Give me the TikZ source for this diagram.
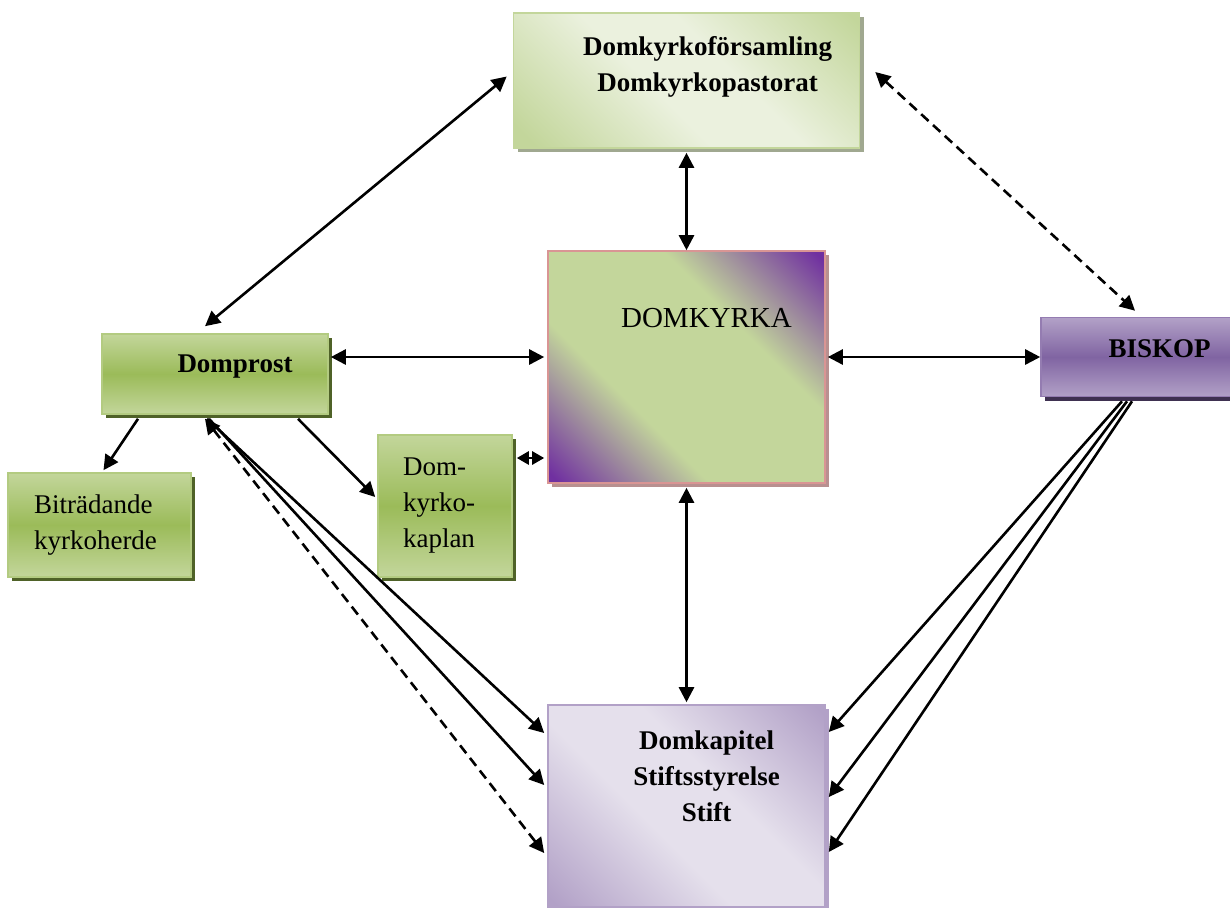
\documentclass[tikz,border=0pt]{standalone}
\usepackage{fontspec}
\setmainfont{Liberation Serif}
\usetikzlibrary{arrows.meta,shadows}

\definecolor{greenmid}{HTML}{9BBB59}
\definecolor{greenlight}{HTML}{C3D69B}
\definecolor{greenpale}{HTML}{EBF1DE}
\definecolor{greendark}{HTML}{4F6228}
\definecolor{purplemid}{HTML}{8064A2}
\definecolor{purplelight}{HTML}{B2A1C7}
\definecolor{purplepale}{HTML}{E5E0EC}
\definecolor{purpledark}{HTML}{3F3151}
\definecolor{purpledeep}{HTML}{7030A0}
\definecolor{pinkborder}{HTML}{D99594}
\definecolor{parishshadow}{HTML}{A0A890}
\definecolor{cathedralshadow}{HTML}{B89090}

\pgfdeclarehorizontalshading{parishshade}{100bp}{color(0bp)=(greenlight); color(18bp)=(greenlight); color(44bp)=(greenpale); color(58bp)=(greenpale); color(84bp)=(greenlight); color(100bp)=(greenlight)}
\pgfdeclarehorizontalshading{cathedralshade}{100bp}{color(0bp)=(purpledeep); color(16bp)=(purpledeep); color(37bp)=(greenlight); color(63bp)=(greenlight); color(84bp)=(purpledeep); color(100bp)=(purpledeep)}
\pgfdeclarehorizontalshading{chaptershade}{100bp}{color(0bp)=(purplelight); color(16bp)=(purplelight); color(42bp)=(purplepale); color(58bp)=(purplepale); color(84bp)=(purplelight); color(100bp)=(purplelight)}

\begin{document}
\begin{tikzpicture}[x=0.5pt,y=-0.5pt]
	\useasboundingbox (0,0) rectangle (1230,907);
	\begin{scope}[every node/.style={rectangle,inner sep=0pt,line width=0.8pt,
			font=\fontsize{13.5}{18}\selectfont},
		every label/.style={align=center},
		boldlabel/.style={font=\fontsize{13.5}{18}\selectfont\bfseries},
		greenbox/.style={draw=greenlight!60!greenmid,top color=greenlight,
			bottom color=greenlight,middle color=greenmid,
			drop shadow={shadow xshift=2pt,shadow yshift=-2pt,fill=greendark,opacity=1}},
		purplebox/.style={draw=purplemid!60!purplelight,top color=purplelight,
			bottom color=purplelight,middle color=purplemid,
			drop shadow={shadow xshift=2pt,shadow yshift=-2pt,fill=purpledark,opacity=1}}]
		\node[draw=greenlight,shade,shading=parishshade,shading angle=45,
			drop shadow={shadow xshift=2pt,shadow yshift=-2pt,fill=parishshadow,opacity=1},
			minimum width=173pt,minimum height=67.5pt,
			label={[boldlabel,xshift=10.5pt,yshift=7pt]center:Domkyrkoförsamling\\Domkyrkopastorat}]
			(parish) at (686.5,80.5) {};
		\node[draw=pinkborder,shade,shading=cathedralshade,shading angle=45,
			drop shadow={shadow xshift=2pt,shadow yshift=-2pt,fill=cathedralshadow,opacity=1},
			minimum width=138.5pt,minimum height=116pt,
			label={[xshift=10pt,yshift=24.5pt,font=\fontsize{14.5}{18}\selectfont]center:DOMKYRKA}]
			(cathedral) at (686.5,367) {};
		\node[draw=purplelight,shade,shading=chaptershade,shading angle=45,
			drop shadow={shadow xshift=2pt,shadow yshift=-2pt,fill=purplelight,opacity=1},
			minimum width=138.5pt,minimum height=101pt,
			label={[boldlabel,xshift=10pt,yshift=15pt]center:Domkapitel\\Stiftsstyrelse\\Stift}]
			(chapter) at (686.5,806) {};
		\node[greenbox,minimum width=113pt,minimum height=40pt,
			label={[boldlabel,xshift=10pt,yshift=3.5pt]center:Domprost}]
			(dean) at (215,374) {};
		\node[greenbox,minimum width=91.5pt,minimum height=52pt,
			label={[xshift=-2pt,align=left]center:Biträdande\\kyrkoherde}]
			(vicar) at (99.5,525) {};
		\node[greenbox,minimum width=67pt,minimum height=71pt,
			label={[xshift=-3pt,align=left]center:Dom-\\kyrko-\\kaplan}]
			(chaplain) at (445,506) {};
		\node[purplebox,minimum width=104.5pt,minimum height=39.5pt,
			label={[boldlabel,xshift=7pt,yshift=4pt]center:BISKOP}]
			(bishop) at (1145.5,357) {};
	\end{scope}
	\begin{scope}[>={Triangle[length=7.5pt,width=7.5pt]},line width=1.3pt,
		every edge/.style={draw=black}]
		\path [<->] ([xshift=-3pt,yshift=2pt]parish.west) edge ([xshift=-5pt,yshift=3.5pt]dean.north);
		\path [<->,dash pattern=on 5pt off 3pt] ([xshift=7.5pt,yshift=4.25pt]parish.east) edge ([xshift=-5.25pt,yshift=3pt]bishop.north);
		\path [<->] ([yshift=-2pt]parish.south) edge (cathedral.north);
		\path [<->] ([xshift=1pt,yshift=8.5pt]dean.east) edge ([xshift=-1.5pt,yshift=5pt]cathedral.west);
		\path [<->] ([xshift=1pt,yshift=5pt]cathedral.east) edge (bishop.west);
		\path [->] ([xshift=-38.5pt,yshift=-2pt]dean.south) edge ([xshift=2pt,yshift=1pt]vicar.north);
		\path [->] ([xshift=41.5pt,yshift=-2pt]dean.south) edge ([xshift=-1pt,yshift=4.5pt]chaplain.west);
		\path [<->,>={Triangle[length=6pt,width=6.5pt]}] ([xshift=2pt,yshift=24pt]chaplain.east) edge ([xshift=-1.5pt,yshift=-45.5pt]cathedral.west);
		\path [<->] ([yshift=-2pt]cathedral.south) edge ([yshift=1pt]chapter.north);
		% Domprost to Domkapitel
		\path [->] ([xshift=-4pt,yshift=-2pt]dean.south) edge ([xshift=-1.5pt,yshift=36.5pt]chapter.west);
		\path [->] ([xshift=-3pt,yshift=-2pt]dean.south) edge ([xshift=-1.5pt,yshift=10.5pt]chapter.west);
		\path [<->,dash pattern=on 5pt off 3pt] ([xshift=-5pt,yshift=-2pt]dean.south) edge ([xshift=-1.5pt,yshift=-23.5pt]chapter.west);
		% BISKOP to Domkapitel
		\path [->] ([xshift=-11.75pt,yshift=-2pt]bishop.south) edge ([xshift=1.5pt,yshift=37pt]chapter.east);
		\path [->] ([xshift=-9.25pt,yshift=-2pt]bishop.south) edge ([xshift=1.5pt,yshift=4.5pt]chapter.east);
		\path [->] ([xshift=-6.75pt,yshift=-2pt]bishop.south) edge ([xshift=1.5pt,yshift=-23pt]chapter.east);
	\end{scope}
\end{tikzpicture}
\end{document}
